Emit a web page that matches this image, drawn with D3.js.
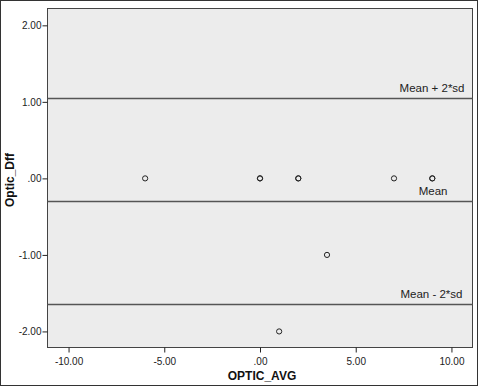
<!DOCTYPE html>
<html><head><meta charset="utf-8">
<script src="https://cdn.jsdelivr.net/npm/d3@7"></script>
<style>body{margin:0;background:#fff}svg{display:block}text{font-family:"Liberation Sans",Arial,sans-serif}</style>
</head><body>
<svg id="c" width="478" height="386"></svg>
<script>
const avg  = [-6, 0, 0, 2, 2, 7, 9, 9, 3.5, 1];
const diff = [ 0, 0, 0, 0, 0, 0, 0, 0, -1, -2];
const xTicks = [-10, -5, 0, 5, 10];
const yTicks = [-2, -1, 0, 1, 2];
const refValues = [1.05, -0.29, -1.64];
const refLabels = ["Mean + 2*sd", "Mean", "Mean - 2*sd"];
const xTitle = "OPTIC_AVG", yTitle = "Optic_Dff";

const svg = d3.select("#c");
const L = 47.5, R = 472.5, T = 8.5, B = 347.5;
const x = d3.scaleLinear().domain([-11.1, 11.1]).range([L, R]);
const y = d3.scaleLinear().domain([-2.21, 2.22]).range([B, T]);
const fmt = v => { let s = v.toFixed(2); return s.replace(/^0\./, ".").replace(/^-0\./, "-."); };

svg.append("rect").attr("x",0.5).attr("y",0.5).attr("width",477).attr("height",385).attr("fill","#fff").attr("stroke","#333");
svg.append("rect").attr("x",L).attr("y",T).attr("width",R-L).attr("height",B-T).attr("fill","#ececec").attr("stroke","#444").attr("stroke-width",1);

const xa = svg.append("g").attr("transform",`translate(0,${B})`)
  .call(d3.axisBottom(x).tickValues(xTicks).tickSize(5).tickSizeOuter(0).tickFormat(fmt));
const ya = svg.append("g").attr("transform",`translate(${L},0)`)
  .call(d3.axisLeft(y).tickValues(yTicks).tickSize(5).tickSizeOuter(0).tickFormat(fmt));
[xa, ya].forEach(g => {
  g.select(".domain").remove();
  g.selectAll("line").attr("stroke","#222");
  g.selectAll("text").attr("fill","#222").style("font-size","10px").style("font-family",'"Liberation Sans",Arial,sans-serif');
});
xa.selectAll("text").attr("dy","0.9em").attr("y",8);
ya.selectAll("text").attr("x",-6);

svg.selectAll(".ref").data(refValues).enter().append("line")
  .attr("x1",L).attr("x2",R).attr("y1",d=>Math.round(y(d))+0.5).attr("y2",d=>Math.round(y(d))+0.5)
  .attr("stroke","#555").attr("stroke-width",1.5);

const labelPos = [{dx:-8, dy:-6}, {dx:-25, dy:-6}, {dx:-10, dy:-6}];
svg.selectAll(".rl").data(refLabels).enter().append("text")
  .attr("x",(d,i)=> R+labelPos[i].dx)
  .attr("y",(d,i)=> y(refValues[i]) + labelPos[i].dy)
  .attr("text-anchor","end")
  .style("font-size","11.5px").attr("fill","#222").text(d=>d);

svg.selectAll(".pt").data(avg).enter().append("circle")
  .attr("cx",d=>x(d)).attr("cy",(d,i)=>y(diff[i])).attr("r",2.6)
  .attr("fill","none").attr("stroke","#222").attr("stroke-width",1);

svg.append("text").attr("x",262).attr("y",380).attr("text-anchor","middle")
  .style("font-size","12px").style("font-weight","bold").attr("fill","#111").text(xTitle);
svg.append("text").attr("transform","translate(14,180) rotate(-90)").attr("text-anchor","middle")
  .style("font-size","12px").style("font-weight","bold").attr("fill","#111").text(yTitle);
</script>
</body></html>
